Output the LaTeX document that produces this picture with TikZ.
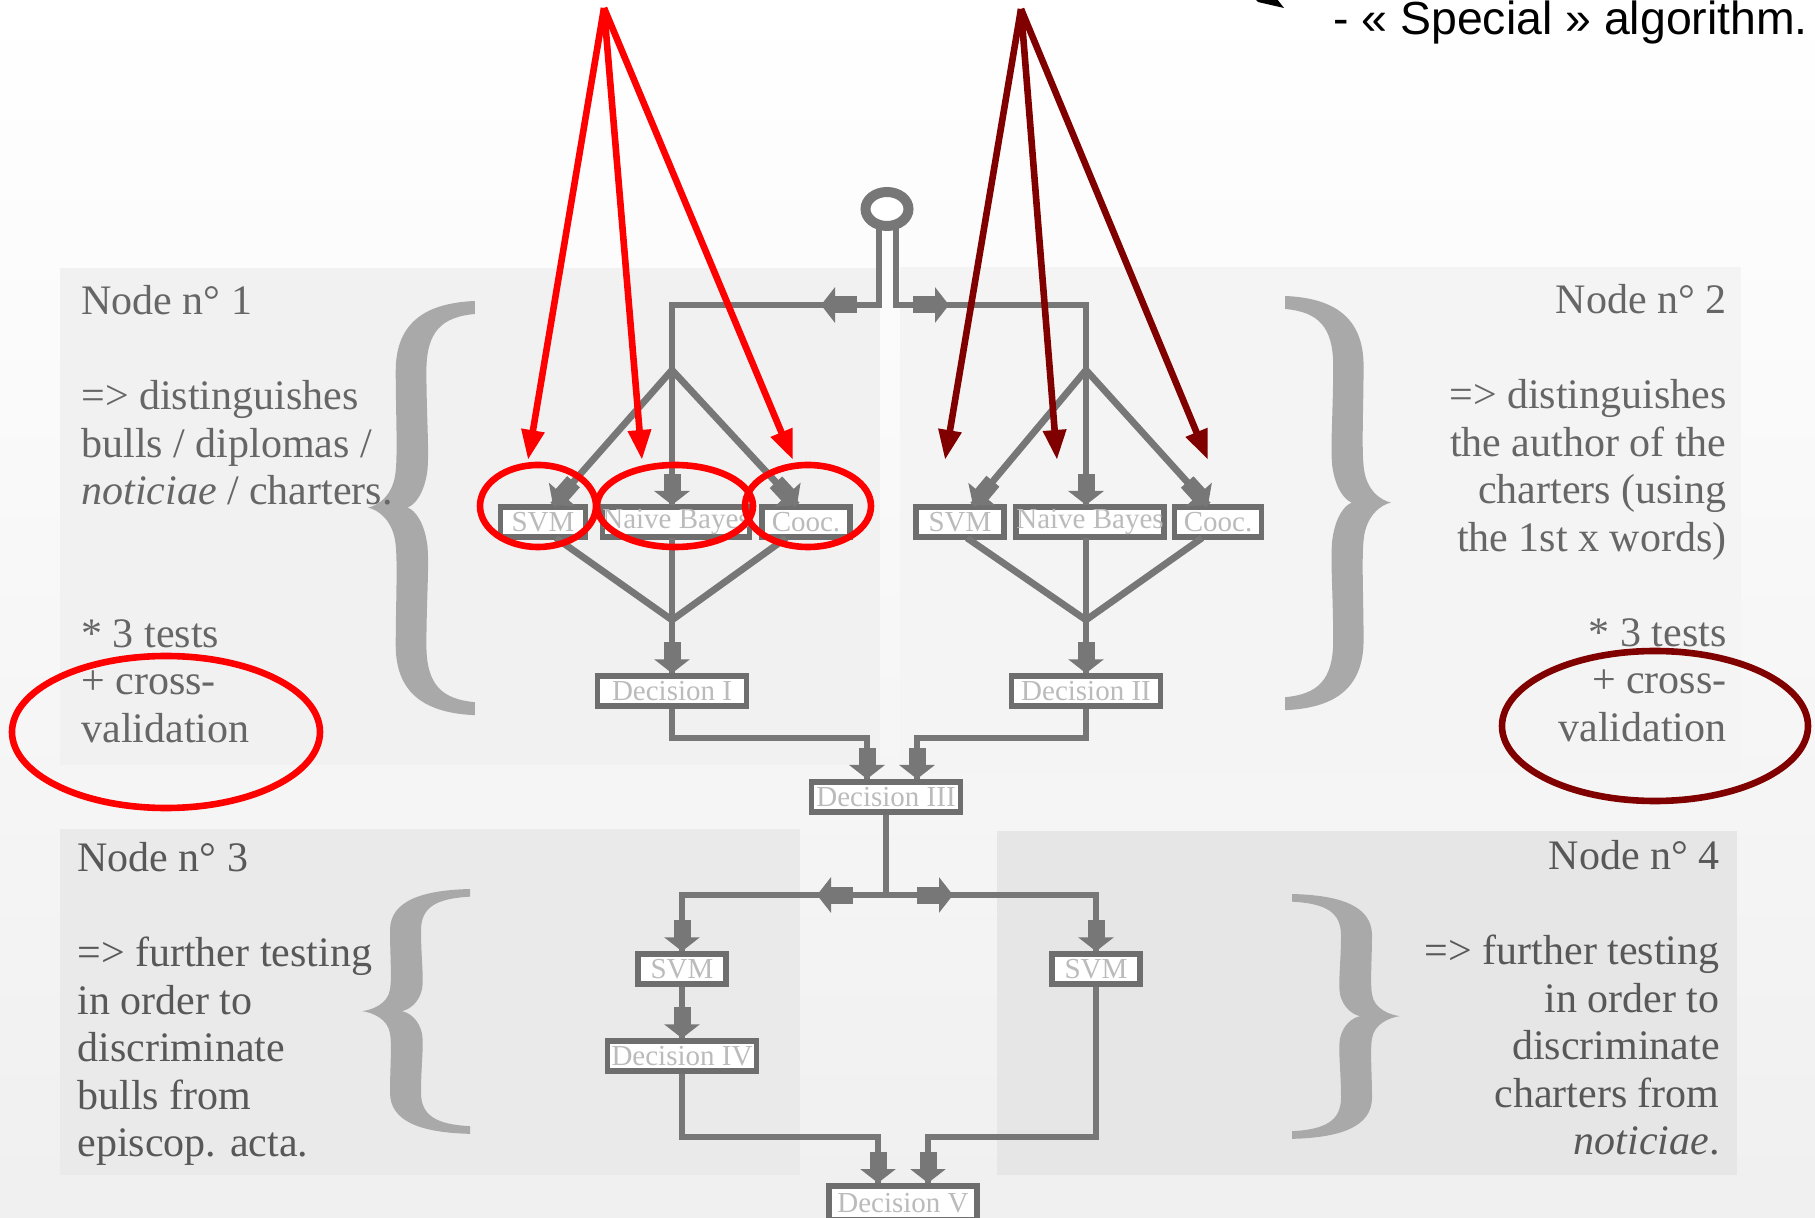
\documentclass[tikz,border=0pt]{standalone}
\usepackage{fontspec}
\setmainfont{Liberation Serif}
\newfontfamily\arialf{Liberation Sans}
\usetikzlibrary{arrows.meta,calc,shapes.geometric}
\definecolor{flowgray}{HTML}{777777}
\definecolor{boxgray}{HTML}{6E6E6E}
\definecolor{boxtext}{HTML}{BBBBBB}
\definecolor{txtgray}{HTML}{666666}
\definecolor{txtdark}{HTML}{585858}
\definecolor{bracegray}{HTML}{A9A9A9}
\definecolor{darkred}{HTML}{800000}
\definecolor{panA}{HTML}{F1F1F1}
\definecolor{panB}{HTML}{F4F4F4}
\definecolor{panC}{HTML}{EAEAEA}
\definecolor{panD}{HTML}{E6E6E6}
\newcommand\mybrace[4]{%
\begin{scope}[shift={(#1,#2)}, xscale=#3, yscale=#4]
\fill[bracegray] (108,0) .. controls (60,2) and (28,20) .. (28,70)
 .. controls (28,110) and (30,150) .. (28,170)
 .. controls (26,195) and (10,205) .. (0,207)
 .. controls (10,209) and (26,220) .. (28,245)
 .. controls (30,265) and (28,305) .. (28,345)
 .. controls (28,395) and (60,413) .. (108,415)
 -- (108,402)
 .. controls (75,399) and (59,385) .. (59,345)
 .. controls (59,300) and (62,265) .. (60,245)
 .. controls (57,222) and (48,210) .. (40,207)
 .. controls (48,204) and (57,192) .. (60,170)
 .. controls (62,150) and (59,115) .. (59,70)
 .. controls (59,30) and (75,16) .. (108,13)
 -- cycle;
\end{scope}}
\begin{document}
\begin{tikzpicture}[x=0.5pt,y=-0.5pt,
  flow/.style={draw=flowgray, line width=3.4pt},
  blk/.style={draw=flowgray, line width=8.5pt, -{Triangle[length=7pt,width=17.5pt]}},
  box/.style={draw=boxgray, line width=2.7pt, fill=white, inner sep=0pt,
    minimum height=15pt, text=boxtext, font=\fontsize{14.5}{16}\selectfont},
  txt/.style={inner sep=0pt, text=txtgray, font=\fontsize{21}{23.75}\selectfont},
  redarr/.style={line width=3.3pt, -{Triangle[length=15pt,width=11pt]}},
  redell/.style={ellipse, line width=3.3pt, inner sep=0pt}]
\newcommand\barrow[2]{\draw[blk] ($(#2)!15.5pt!(#1)$) -- (#2);}
\useasboundingbox (0,0) rectangle (1815,1218);
\shade[top color=white, bottom color=white!94!black] (0,0) rectangle (1815,1218);
% panels
\fill[panA] (60,268) rectangle (880,765);
\fill[panB] (900,267) rectangle (1741,773);
\fill[panC] (60,829) rectangle (800,1175);
\fill[panD] (997,831) rectangle (1737,1175);
% braces
\mybrace{368}{301}{0.99}{0.998}
\mybrace{1391}{296}{-0.98}{0.998}
\mybrace{362}{889}{1.0}{0.59}
\mybrace{1400}{894}{-1.0}{0.59}
% texts
\node[txt, anchor=north west, align=left] (n1) at (81,285)
 {Node n° 1\\[23.75pt]
  => distinguishes\\
  bulls / diplomas /\\
  \textit{noticiae} / charters.\\[47.5pt]
  * 3 tests\\
  + cross-\\
  validation};
\node[txt, anchor=north east, align=right] (n2) at (1727,284)
 {Node n° 2\\[23.75pt]
  => distinguishes\\
  the author of the\\
  charters (using\\
  the 1st x words)\\[23.75pt]
  * 3 tests\\
  + cross-\\
  validation};
\node[txt, text=txtdark, anchor=north west, align=left] (n3) at (77,842)
 {Node n° 3\\[23.75pt]
  => further testing\\
  in order to\\
  discriminate\\
  bulls from\\
  episcop. acta.};
\node[txt, text=txtdark, anchor=north east, align=right] (n4) at (1720,840)
 {Node n° 4\\[23.75pt]
  => further testing\\
  in order to\\
  discriminate\\
  charters from\hspace*{0.3em}\\
  \textit{noticiae}.};
\node[anchor=base west, inner sep=0pt, font=\arialf\fontsize{23.2}{27}\selectfont] (special) at (1333,35)
 {- « Special » algorithm.};
\fill[black] (1255,-1) -- (1258,2) -- (1284,8) -- (1277,-1) -- cycle;
% flow coordinates
\coordinate (stL) at (879,224);
\coordinate (stR) at (896,224);
\coordinate (dA) at (672,370);
\coordinate (dB) at (1086,370);
\coordinate (tA1) at (553,505);
\coordinate (tA2) at (672,505);
\coordinate (tA3) at (797,505);
\coordinate (tB1) at (973,505);
\coordinate (tB2) at (1086,505);
\coordinate (tB3) at (1208,505);
\coordinate (bA1) at (556,538);
\coordinate (bA2) at (672,538);
\coordinate (bA3) at (786,538);
\coordinate (bB1) at (967,538);
\coordinate (bB2) at (1086,538);
\coordinate (bB3) at (1202,538);
\coordinate (cA) at (672,620);
\coordinate (cB) at (1086,620);
\coordinate (aboveIIIa) at (867,738);
\coordinate (aboveIIIb) at (917,738);
\coordinate (inIIIa) at (867,779);
\coordinate (inIIIb) at (917,779);
\coordinate (J3) at (886,895);
\coordinate (J3L) at (682,895);
\coordinate (J3R) at (1096,895);
\coordinate (aboveVa) at (878,1137);
\coordinate (aboveVb) at (928,1137);
\coordinate (inVa) at (878,1183);
\coordinate (inVb) at (928,1183);
% boxes
\node[box, minimum width=42.5pt] (svmA) at (543,522) {SVM};
\node[box, minimum width=73.5pt] (nbA) at (676,522) {Naive Bayes};
\node[box, minimum width=44pt] (coA) at (806,522) {Cooc.};
\node[box, minimum width=44pt] (svmB) at (960,522) {SVM};
\node[box, minimum width=74pt] (nbB) at (1090,522) {Naive Bayes};
\node[box, minimum width=43.5pt] (coB) at (1218,522) {Cooc.};
\node[box, minimum width=74.5pt] (decI) at (672,691) {Decision I};
\node[box, minimum width=74.5pt] (decII) at (1086,691) {Decision II};
\node[box, minimum width=74.5pt] (decIII) at (886,797) {Decision III};
\node[box, minimum width=44pt] (svmC) at (682,969) {SVM};
\node[box, minimum width=74.5pt] (decIV) at (682,1056) {Decision IV};
\node[box, minimum width=44pt] (svmD) at (1096,969) {SVM};
\node[box, minimum width=74pt, minimum height=17pt] (decV) at (903,1203) {Decision V};
% flow lines
\draw[flow] (stL) -- ++(0,81) -| (dA);
\draw[flow] (stR) -- ++(0,81) -| (dB);
\node[draw=flowgray, line width=5pt, fill=white, ellipse, minimum width=21.5pt,
  minimum height=17pt, inner sep=0pt] (ring) at (887,209) {};
\coordinate (aL1) at (857,305); \coordinate (aL2) at (821,305);
\coordinate (aR1) at (913,305); \coordinate (aR2) at (949,305);
\draw[blk] (aL1) -- (aL2);
\draw[blk] (aR1) -- (aR2);
\foreach \t in {tA1,tA2,tA3} {\draw[flow] (dA) -- (\t); \barrow{dA}{\t}}
\foreach \t in {tB1,tB2,tB3} {\draw[flow] (dB) -- (\t); \barrow{dB}{\t}}
\foreach \b in {bA1,bA2,bA3} {\draw[flow] (\b) -- (cA);}
\foreach \b in {bB1,bB2,bB3} {\draw[flow] (\b) -- (cB);}
\draw[flow] (cA) -- (decI.north); \barrow{cA}{decI.north}
\draw[flow] (cB) -- (decII.north); \barrow{cB}{decII.north}
\draw[flow] (decI.south) |- (aboveIIIa) -- (inIIIa); \barrow{aboveIIIa}{inIIIa}
\draw[flow] (decII.south) |- (aboveIIIb) -- (inIIIb); \barrow{aboveIIIb}{inIIIb}
\draw[flow] (decIII.south) -- (J3);
\draw[flow] (J3) -| (svmC.north); \barrow{J3L}{svmC.north}
\draw[flow] (J3) -| (svmD.north); \barrow{J3R}{svmD.north}
\coordinate (mL1) at (853,895); \coordinate (mL2) at (817,895);
\coordinate (mR1) at (917,895); \coordinate (mR2) at (953,895);
\draw[blk] (mL1) -- (mL2);
\draw[blk] (mR1) -- (mR2);
\draw[flow] (svmC.south) -- (decIV.north); \barrow{svmC.south}{decIV.north}
\draw[flow] (decIV.south) |- (aboveVa) -- (inVa); \barrow{aboveVa}{inVa}
\draw[flow] (svmD.south) |- (aboveVb) -- (inVb); \barrow{aboveVb}{inVb}
% red annotations
\coordinate (apL) at (604,8);
\coordinate (apR) at (1021,9);
\coordinate (rA1) at (528,460); \coordinate (rA2) at (642,460); \coordinate (rA3) at (793,460);
\coordinate (rB1) at (945,460); \coordinate (rB2) at (1057,460); \coordinate (rB3) at (1208,460);
\foreach \t in {rA1,rA2,rA3} {\draw[redarr, red] (apL) -- (\t);}
\foreach \t in {rB1,rB2,rB3} {\draw[redarr, darkred] (apR) -- (\t);}
\node[redell, draw=red, minimum width=58pt, minimum height=41pt] (eSVM) at (538,506) {};
\node[redell, draw=red, minimum width=78pt, minimum height=41pt] (eNB) at (675,506) {};
\node[redell, draw=red, minimum width=63pt, minimum height=41pt] (eCo) at (808,506) {};
\node[redell, draw=red, minimum width=154pt, minimum height=76pt] (eL) at (166,732) {};
\node[redell, draw=darkred, minimum width=153pt, minimum height=75pt] (eR) at (1655,726) {};
\end{tikzpicture}
\end{document}
